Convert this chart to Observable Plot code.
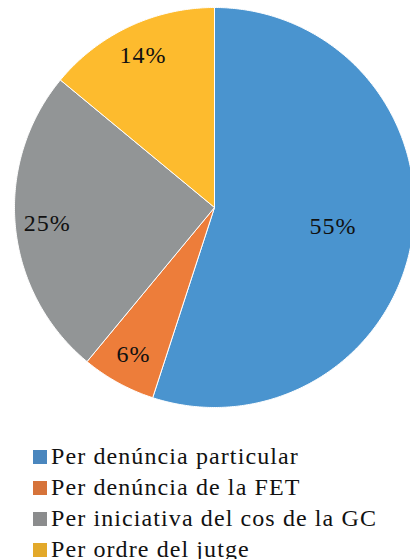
<!DOCTYPE html>
<html>
<head>
<meta charset="utf-8">
<script src="https://cdn.jsdelivr.net/npm/d3@7"></script>
<script src="https://cdn.jsdelivr.net/npm/@observablehq/plot@0.6"></script>
</head>
<body style="margin:0;background:#fff;">
<div id="chart"></div>
<div id="legend" style="padding-top:11px;margin-left:33px;"></div>
<script>
const categories = ["Per denúncia particular", "Per denúncia de la FET", "Per iniciativa del cos de la GC", "Per ordre del jutge"];
const values = [55, 6, 25, 14];
const labels = ["55%", "6%", "25%", "14%"];
const pieColors = ["#4A94CF", "#ED7D3A", "#929596", "#FDBB2E"];
const legendColors = ["#4A86BE", "#D6733A", "#8B8C8D", "#E3A92A"];

const SERIF = "'Liberation Serif', 'Times New Roman', serif";

const arcs = d3.pie().sort(null).value(d => d)(values);

const polys = [];
arcs.forEach((a, i) => {
  const cat = categories[i];
  polys.push({cat, x: 0, y: 0});
  const n = Math.max(2, Math.ceil((a.endAngle - a.startAngle) / 0.01));
  for (let k = 0; k <= n; k++) {
    const t = a.startAngle + (a.endAngle - a.startAngle) * k / n;
    polys.push({cat, x: Math.sin(t), y: Math.cos(t)});
  }
  polys.push({cat, x: 0, y: 0});
});

const labelData = arcs.map((a, i) => {
  const m = (a.startAngle + a.endAngle) / 2;
  const r = values[i] >= 50 ? 0.6 : 0.84;
  return {label: labels[i], x: r * Math.sin(m), y: r * Math.cos(m)};
});

const plot = Plot.plot({
  width: 410,
  height: 430,
  margin: 0,
  style: {fontFamily: SERIF, background: "white"},
  x: {domain: [-1.07, 0.98], axis: null},
  y: {domain: [-1.115, 1.035], axis: null},
  color: {domain: categories, range: pieColors},
  marks: [
    Plot.line(polys, {x: "x", y: "y", z: "cat", fill: "cat", stroke: "white", strokeWidth: 1, curve: "linear"}),
    Plot.text(labelData, {x: "x", y: "y", text: "label", fontSize: 24, fontFamily: SERIF, fill: "#111"})
  ]
});
plot.querySelectorAll("text").forEach(t => { t.style.letterSpacing = "1px"; t.style.fontFamily = SERIF; });
document.getElementById("chart").appendChild(plot);

const legend = document.getElementById("legend");
categories.forEach((c, i) => {
  const row = document.createElement("div");
  row.style.cssText = "display:flex;align-items:center;height:31px;font-size:24px;color:#111;white-space:nowrap;letter-spacing:1.1px;font-family:" + SERIF;
  const sw = document.createElement("span");
  sw.style.cssText = "width:14px;height:14px;margin-right:4px;flex:none;background:" + legendColors[i];
  row.appendChild(sw);
  row.appendChild(document.createTextNode(c));
  legend.appendChild(row);
});
</script>
</body>
</html>
